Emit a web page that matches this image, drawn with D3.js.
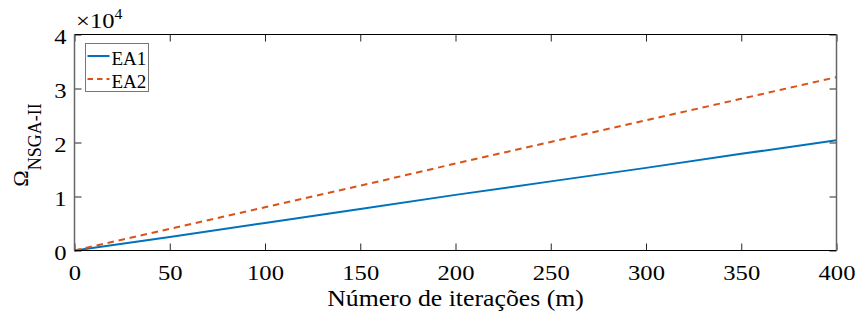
<!DOCTYPE html>
<html>
<head>
<meta charset="utf-8">
<script src="https://cdn.jsdelivr.net/npm/d3@7"></script>
<style>
  body { margin: 0; background: #fff; }
  svg { display: block; }
  svg text { font-family: "Liberation Serif", "Times New Roman", Times, serif; }
</style>
</head>
<body>
<svg width="856" height="320"></svg>
<script>
// iterations (m) and Omega values
var iterations = [0, 50, 100, 150, 200, 250, 300, 350, 400];
var ea1 = [0, 2500, 5100, 7700, 10300, 12800, 15300, 17900, 20400];
var ea2 = [0, 4000, 8000, 12000, 16100, 20100, 24100, 28100, 32100];
var seriesNames = ["EA1", "EA2"];
var xTicks = [0, 50, 100, 150, 200, 250, 300, 350, 400];
var yTicks = [0, 1, 2, 3, 4]; // x 10^4

function drawChart() {
  var svg = d3.select("svg");
  var pl = 74.5, pr = 836.5, pt = 34.5, pb = 250.5;
  var sx = 1.12; // the reference text is a bit wider than the font

  var x = d3.scaleLinear().domain([0, 400]).range([pl, pr]);
  var y = d3.scaleLinear().domain([0, 40000]).range([pb, pt]);

  //////////// LINES ////////////
  var line = d3.line()
    .x(function(d) { return x(d[0]); })
    .y(function(d) { return y(d[1]); });

  svg.append("path")
    .datum(iterations.map(function(m, i) { return [m, ea1[i]]; }))
    .attr("d", line)
    .attr("fill", "none")
    .attr("stroke", "#0072BD")
    .attr("stroke-width", 2);

  svg.append("path")
    .datum(iterations.map(function(m, i) { return [m, ea2[i]]; }))
    .attr("d", line)
    .attr("fill", "none")
    .attr("stroke", "#D95319")
    .attr("stroke-width", 2)
    .attr("stroke-dasharray", "6.5,4.8");

  //////////// AXES ////////////
  var tickLen = 7;
  function styleAxis(g) {
    g.attr("font-family", null);
    g.select(".domain").remove();
    g.selectAll("text").attr("font-size", 22).attr("fill", "#000").attr("transform", "scale(" + sx + ",1)");
    g.selectAll("line").attr("stroke", "#262626");
  }
  svg.append("g")
    .attr("transform", "translate(0," + pb + ")")
    .call(d3.axisBottom(x).tickValues(xTicks).tickSizeInner(-tickLen).tickSizeOuter(0).tickPadding(14))
    .call(styleAxis);
  svg.append("g")
    .attr("transform", "translate(0," + pt + ")")
    .call(d3.axisTop(x).tickValues(xTicks).tickSizeInner(-tickLen).tickSizeOuter(0).tickFormat(""))
    .call(styleAxis);
  svg.append("g")
    .attr("transform", "translate(" + pl + ",0)")
    .call(d3.axisLeft(y).tickValues(yTicks.map(function(v) { return v * 10000; }))
      .tickFormat(function(d) { return d / 10000; })
      .tickSizeInner(-tickLen).tickSizeOuter(0).tickPadding(7))
    .call(styleAxis)
    .call(function(g) { g.selectAll("text").attr("dy", "0.41em"); });
  svg.append("g")
    .attr("transform", "translate(" + pr + ",0)")
    .call(d3.axisRight(y).tickValues(yTicks.map(function(v) { return v * 10000; }))
      .tickSizeInner(-tickLen).tickSizeOuter(0).tickFormat(""))
    .call(styleAxis);

  // box
  svg.append("line").attr("x1", pl).attr("x2", pr).attr("y1", pb).attr("y2", pb).attr("stroke", "#000");
  svg.append("line").attr("x1", pl).attr("x2", pr).attr("y1", pt).attr("y2", pt).attr("stroke", "#000");
  svg.append("line").attr("x1", pl).attr("x2", pl).attr("y1", pt).attr("y2", pb).attr("stroke", "#666").attr("stroke-width", 1.5);
  svg.append("line").attr("x1", pr).attr("x2", pr).attr("y1", pt).attr("y2", pb).attr("stroke", "#666").attr("stroke-width", 1.5);

  // exponent
  var expo = svg.append("text")
    .attr("transform", "translate(76,28) scale(" + sx + ",1)")
    .attr("font-size", 22).attr("fill", "#000");
  expo.append("tspan").text("×10");
  expo.append("tspan").attr("dy", -9).attr("font-size", 14).text("4");

  //////////// LABELS ////////////
  svg.append("text")
    .attr("transform", "translate(" + ((pl + pr) / 2) + ",306) scale(" + sx + ",1)")
    .attr("text-anchor", "middle").attr("font-size", 23).attr("fill", "#000")
    .text("Número de iterações (m)");

  var yl = svg.append("text")
    .attr("transform", "translate(28,145) rotate(-90)")
    .attr("text-anchor", "middle").attr("font-size", 22).attr("fill", "#000");
  yl.append("tspan").text("Ω");
  yl.append("tspan").attr("dy", 13).attr("font-size", 18).text("NSGA-II");

  //////////// LEGEND ////////////
  var legend = svg.append("g").attr("transform", "translate(85.5,43.5)");
  legend.append("rect").attr("width", 63).attr("height", 48)
    .attr("fill", "#fff").attr("stroke", "#777").attr("stroke-width", 1);
  var colors = ["#0072BD", "#D95319"];
  var dashes = [null, "5.5,4"];
  seriesNames.forEach(function(name, i) {
    var yy = 12.5 + i * 23;
    legend.append("line").attr("x1", 2).attr("x2", 24).attr("y1", yy).attr("y2", yy)
      .attr("stroke", colors[i]).attr("stroke-width", 2).attr("stroke-dasharray", dashes[i]);
    legend.append("text").attr("x", 26).attr("y", yy + 8.5).attr("font-size", 19).attr("fill", "#000").text(name);
  });
}

drawChart();
</script>
</body>
</html>
